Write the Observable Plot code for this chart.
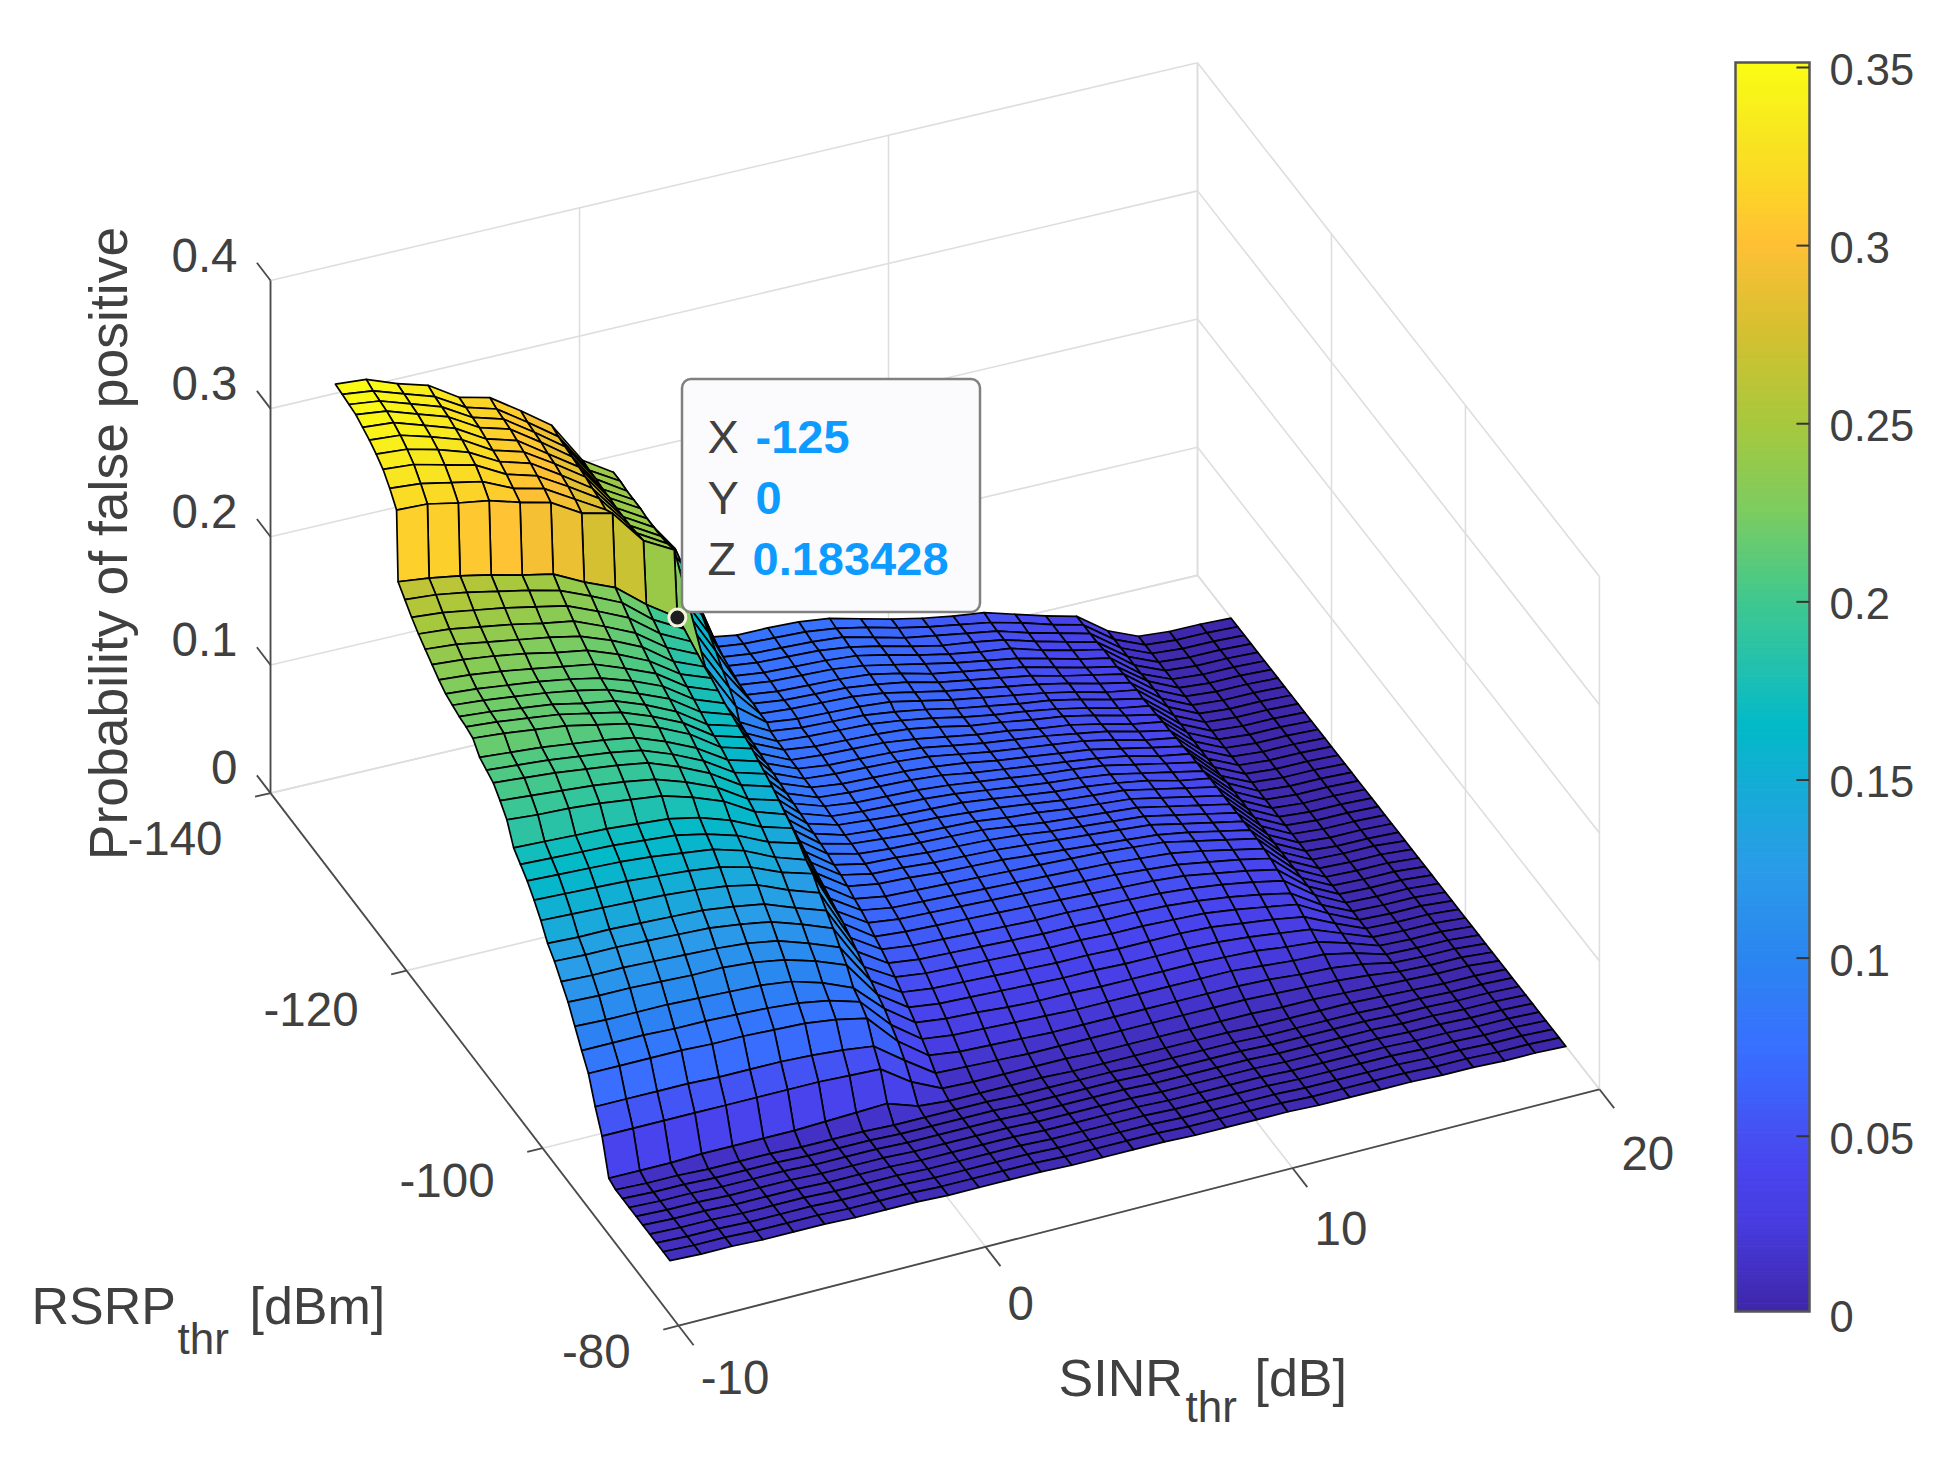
<!DOCTYPE html>
<html><head><meta charset="utf-8">
<script src="https://cdn.jsdelivr.net/npm/d3@7"></script>
<script src="https://cdn.jsdelivr.net/npm/@observablehq/plot@0.6"></script>
<style>body{margin:0;background:#fff}#w{position:relative;width:1951px;height:1480px}#w svg{position:absolute;left:0;top:0;overflow:visible}</style>
</head><body><div id="w"></div>
<script>
const sinrValues = d3.range(-9, 21);
const rsrpValues = d3.range(-135, -84);
const xTicks = [-10, 0, 10, 20];
const yTicks = [-140, -120, -100, -80];
const zTicks = [0, 0.1, 0.2, 0.3, 0.4];
const barTicks = [0, 0.05, 0.1, 0.15, 0.2, 0.25, 0.3, 0.35];
const stopValues = [0, .025, .04, .05, .0625, .075, .1, .125, .15, .165, .18, .2, .225, .25, .275, .3, .315, .33, .35];
const stopColors = ["#3e26a8","#483ce0","#4844ee","#4650f2","#3c62fa","#3870ff","#2a86f0","#2a9ce8","#12aed4","#02bac8","#20c0b0","#40c88e","#7ccc60","#a8c83c","#d4c030","#ffc035","#fcd428","#f8e620","#fafc14"];
// z in thousandths, one row per RSRP (-135 ... -85), one value per SINR (-9 ... 20)
const zRows = [
[348,346,337,330,315,309,293,276,243,228,187,157,82,78,78,77,74,68,62,57,53,50,43,36,30,13,3,1,1,0],
[347,344,336,328,314,307,291,274,242,228,185,152,81,78,77,76,73,68,62,57,53,49,43,36,30,13,3,1,1,0],
[346,343,335,327,313,306,290,273,242,227,180,146,80,77,76,75,73,67,61,57,53,49,42,36,30,13,3,1,1,0],
[345,342,334,326,312,305,289,272,241,227,175,140,80,77,76,75,72,67,61,56,53,49,42,36,30,13,3,1,1,0],
[342,340,332,324,310,303,287,271,241,227,170,132,79,76,75,74,72,67,61,56,52,49,42,36,31,13,3,1,1,0],
[339,337,330,322,308,301,286,270,240,226,163,125,79,76,75,74,71,66,61,56,52,48,42,36,31,13,3,1,1,0],
[335,333,327,319,306,299,284,268,240,226,156,118,78,75,74,73,71,66,60,56,52,48,42,36,31,14,3,1,1,0],
[330,328,322,316,303,296,282,267,240,226,149,110,78,75,74,73,70,66,60,56,52,48,42,37,32,14,3,1,1,0],
[322,320,315,310,299,293,279,265,241,227,140,103,77,75,74,73,70,65,60,56,52,48,43,37,32,14,3,1,1,0],
[312,311,306,302,295,289,275,269,242,229,132,95,77,74,73,72,70,65,60,56,52,48,43,37,33,14,3,1,1,0],
[263,260,256,251,245,240,228,218,199,183,125,90,77,74,73,72,69,65,60,56,52,49,44,38,33,14,3,1,1,0],
[256,254,250,245,240,234,224,213,194,181,122,88,76,74,73,72,69,65,60,56,53,49,44,38,34,14,3,1,1,0],
[249,247,243,239,234,229,219,208,190,178,119,87,76,73,72,71,69,65,60,57,53,50,45,39,34,14,3,1,1,0],
[243,241,237,233,228,224,214,203,186,175,116,86,75,73,72,71,68,64,60,57,53,50,45,39,35,14,3,1,1,0],
[238,236,232,228,224,219,210,199,182,172,113,85,75,72,71,70,68,64,60,57,54,50,46,40,35,14,3,1,1,0],
[233,231,228,224,219,215,206,195,179,170,111,84,74,72,71,70,68,64,60,57,54,51,46,40,36,14,3,1,1,0],
[228,226,223,219,215,211,202,192,176,167,108,83,74,71,70,69,67,64,60,57,54,51,46,41,36,14,3,1,1,0],
[224,222,219,216,212,207,199,189,173,164,105,82,73,71,70,69,67,63,60,57,54,51,47,41,37,14,3,1,1,0],
[222,220,217,214,210,205,196,186,170,162,103,81,73,70,69,68,66,63,60,57,55,52,47,42,37,15,3,1,1,0],
[220,218,215,212,207,203,194,183,167,160,101,80,72,70,69,68,66,63,60,57,55,52,47,42,37,15,3,1,1,0],
[219,217,214,211,206,201,192,181,165,158,99,79,72,70,68,67,66,63,60,57,55,52,48,42,38,15,3,1,1,0],
[217,215,212,209,204,199,190,179,163,156,97,78,71,69,68,67,65,63,60,57,55,53,48,43,38,15,3,1,1,0],
[209,207,205,202,199,195,186,175,160,153,95,77,71,69,67,66,65,62,60,57,55,53,48,43,38,15,3,1,1,0],
[206,204,202,199,196,192,183,172,157,150,93,76,70,68,67,66,65,62,59,57,55,53,48,43,38,15,3,1,1,0],
[203,201,199,196,193,189,180,169,154,147,91,74,69,68,66,65,64,62,59,57,55,53,48,43,38,15,3,1,1,0],
[196,194,192,190,187,183,175,165,150,143,89,73,68,67,65,64,63,61,59,57,55,53,48,43,38,15,3,1,1,0],
[188,186,185,183,180,177,170,161,147,139,87,71,67,66,64,63,62,60,58,56,54,52,48,43,38,15,3,2,2,0],
[173,172,171,170,168,166,161,153,142,135,84,68,64,63,62,61,60,59,58,57,55,53,48,43,38,15,3,2,2,0],
[167,166,165,164,162,160,155,148,137,130,81,66,62,61,60,59,58,57,56,55,53,51,47,42,37,15,3,2,2,0],
[161,160,159,158,156,153,150,143,132,124,78,63,60,59,58,57,56,55,54,53,51,49,45,41,36,15,3,2,2,0],
[153,152,151,150,148,146,143,137,127,120,75,59,57,56,55,54,53,52,51,50,49,47,43,39,34,15,3,2,2,0],
[144,143,142,141,140,138,135,130,120,112,71,56,53,52,51,50,49,49,48,47,46,44,41,37,32,15,3,2,2,0],
[133,132,132,131,130,129,126,122,113,105,67,52,49,48,47,46,45,45,44,44,43,41,38,34,29,14,3,2,2,0],
[126,125,125,124,123,122,119,115,107,98,62,48,45,44,43,42,41,41,40,40,39,38,35,31,27,14,3,2,2,0],
[117,116,116,115,114,113,111,107,99,90,58,43,40,39,38,37,36,36,35,35,35,34,31,28,24,13,3,2,2,0],
[108,107,107,106,105,105,103,99,92,83,54,38,35,34,33,32,31,31,30,30,30,29,27,24,21,12,3,2,2,0],
[96,95,95,95,94,93,92,89,82,72,50,33,30,29,27,26,26,25,25,25,25,24,23,20,18,11,3,2,2,0],
[84,84,84,83,83,82,81,79,75,68,44,27,24,23,22,21,20,20,20,20,20,20,18,16,15,10,3,2,2,0],
[73,73,73,73,72,72,71,70,67,62,38,21,18,17,16,15,15,15,15,15,15,15,14,12,11,8,3,2,2,0],
[54,54,54,54,53,53,53,52,50,47,30,14,13,12,11,11,11,11,11,11,11,11,10,9,8,6,3,2,2,0],
[38,38,38,38,38,38,38,38,37,36,20,9,8,8,8,8,7,7,7,7,7,7,6,6,5,4,3,2,2,0],
[12,12,12,13,13,13,13,14,15,16,8,6,6,6,6,5,5,5,5,5,5,4,4,4,4,3,2,1,1,0],
[10,9,9,8,8,8,7,7,7,6,6,6,6,5,5,5,5,4,4,4,4,3,3,3,3,2,2,1,1,0],
[10,9,9,8,8,8,7,7,7,6,6,6,6,5,5,5,5,4,4,4,4,3,3,3,3,2,2,1,1,0],
[10,9,9,8,8,8,7,7,7,6,6,6,6,5,5,5,5,4,4,4,4,3,3,3,3,2,2,1,1,0],
[10,9,9,8,8,8,7,7,7,6,6,6,6,5,5,5,5,4,4,4,4,3,3,3,3,2,2,1,1,0],
[10,9,9,8,8,8,7,7,7,6,6,6,6,5,5,5,5,4,4,4,4,3,3,3,3,2,2,1,1,0],
[10,9,9,8,8,8,7,7,7,6,6,6,6,5,5,5,5,4,4,4,4,3,3,3,3,2,2,1,1,0],
[10,9,9,8,8,8,7,7,7,6,6,6,6,5,5,5,5,4,4,4,4,3,3,3,3,2,2,1,1,0],
[10,9,9,8,8,8,7,7,7,6,6,6,6,5,5,5,5,4,4,4,4,3,3,3,3,2,2,1,1,0],
[10,9,9,8,8,8,7,7,7,6,6,6,6,5,5,5,5,4,4,4,4,3,3,3,3,2,2,1,1,0]
];

// 3-D view: floor corners and vertical scale, in page pixels
const view = {k: 1.2443, p00: [217, 637], du: [745, -175], dv: [328, 428], duv: [-5, -15], zs: 1030};
function project(sinr, rsrp, z) {
  const u = (sinr + 10) / 30, v = (rsrp + 140) / 60;
  const c = i => view.p00[i] + view.du[i] * u + view.dv[i] * v + view.duv[i] * u * v;
  return [c(0) * view.k, (c(1) - z * view.zs) * view.k];
}
const seg = (a, b) => { const p = project(...a), q = project(...b); return {x1: p[0], y1: p[1], x2: q[0], y2: q[1]}; };
// surface vertex; the rows in front of the wall sit slightly further left in the picture
const vertex = (i, j) => {
  const s = sinrValues[j], r = rsrpValues[i], p = project(s, r, zRows[i][j] / 1000);
  return [p[0] - (r >= -125 ? 5.5 * (20 - s) / 30 : 0), p[1]];
};

const cells = [];
for (let r = 0; r < rsrpValues.length - 1; r++)
  for (let c = sinrValues.length - 2; c >= 0; c--) {
    const a = vertex(r, c);
    cells.push({type: "Feature", properties: {z: zRows[r][c] / 1000},
      geometry: {type: "Polygon", coordinates: [[a, vertex(r, c + 1), vertex(r + 1, c + 1), vertex(r + 1, c), a]]}});
  }

const grid = [];
for (const x of xTicks) { grid.push(seg([x,-140,0],[x,-140,.4])); grid.push(seg([x,-140,0],[x,-80,0])); }
for (const y of yTicks) { grid.push(seg([20,y,0],[20,y,.4])); grid.push(seg([-10,y,0],[20,y,0])); }
for (const z of zTicks) { grid.push(seg([-10,-140,z],[20,-140,z])); grid.push(seg([20,-140,z],[20,-80,z])); }

const axes = [seg([-10,-140,0],[-10,-140,.4]), seg([-10,-140,0],[-10,-80,0]), seg([-10,-80,0],[20,-80,0])];
for (const x of xTicks) axes.push(seg([x,-80,0],[x,-77.8,0]));
for (const y of yTicks) axes.push(seg([-10,y,0],[-10.5,y,0]));
for (const z of zTicks) axes.push(seg([-10,-140,z],[-10,-142,z]));

const F = '"Liberation Sans", Arial, sans-serif', TC = "#404040", fs = 43.5, fst = 47.5;
const stopScale = d3.scaleLinear().domain(stopValues).range(stopColors).interpolate(d3.interpolateRgb);
const colorOpt = {type: "linear", domain: [0, 0.35], range: [0, 1], clamp: true, interpolate: t => stopScale(t * 0.35)};
const lab = (t, x, y, o = {}) => Plot.text([t], {x: () => x, y: () => y, text: d => d, fontSize: 52, fill: TC, textAnchor: "start", ...o});

const tooltipPoint = vertex(10, 9);

const main = Plot.plot({
  width: 1951, height: 1480, margin: 0,
  style: {fontFamily: F, background: "transparent"},
  x: {domain: [0, 1951], range: [0, 1951], axis: null},
  y: {domain: [0, 1480], range: [0, 1480], axis: null},
  color: colorOpt,
  marks: [
    Plot.link(grid, {x1: "x1", y1: "y1", x2: "x2", y2: "y2", stroke: "#dedede", strokeWidth: 1.6}),
    Plot.geo(cells, {fill: d => d.properties.z, stroke: "#000", strokeWidth: 1.7, strokeLinejoin: "round"}),
    Plot.link(axes, {x1: "x1", y1: "y1", x2: "x2", y2: "y2", stroke: "#4a4a4a", strokeWidth: 1.8}),
    Plot.text(zTicks, {x: d => project(-10,-140,d)[0] - 33, y: d => project(-10,-140,d)[1] - 24, text: d => String(d), textAnchor: "end", fontSize: fst, fill: TC}),
    Plot.text(yTicks, {x: d => project(-10,d,0)[0] - 48, y: d => project(-10,d,0)[1] + 47 - (d + 140) * 0.33, text: d => String(d), textAnchor: "end", fontSize: fst, fill: TC}),
    Plot.text(xTicks, {x: d => project(d,-80,0)[0] + 22, y: d => project(d,-80,0)[1] + 57.6 + d * 0.41, text: d => String(d), textAnchor: "start", fontSize: fst, fill: TC}),
    lab("Probability of false positive", 109, 543, {rotate: -90, textAnchor: "middle", fontSize: 53.5}),
    lab("RSRP", 31, 1307), lab("thr", 177, 1339, {fontSize: 44}), lab("[dBm]", 249, 1307),
    lab("SINR", 1058, 1379), lab("thr", 1185, 1407, {fontSize: 44}), lab("[dB]", 1254, 1379),
    Plot.rect([0], {x1: () => 682, x2: () => 980, y1: () => 379, y2: () => 612, fill: "#fbfbfe", stroke: "#808080", strokeWidth: 2.5, rx: 9}),
    lab("X", 707, 437, {fontSize: 47}), lab("Y", 707, 498, {fontSize: 47}), lab("Z", 707, 559, {fontSize: 47}),
    lab("-125", 755, 437, {fontSize: 47, fontWeight: "bold", fill: "#0d9bff"}),
    lab("0", 755, 498, {fontSize: 47, fontWeight: "bold", fill: "#0d9bff"}),
    lab("0.183428", 752, 559, {fontSize: 47, fontWeight: "bold", fill: "#0d9bff"}),
    Plot.dot([tooltipPoint], {x: d => d[0], y: d => d[1], r: 8.5, fill: "#1e1e1e", stroke: "#f6f4dc", strokeWidth: 3})
  ]
});

const barBase = 0.0008;
const steps = d3.range(barBase, 0.3514, 0.001);
const bar = Plot.plot({
  width: 251, height: 1480, marginLeft: 35, marginRight: 142, marginTop: 62, marginBottom: 169,
  style: {fontFamily: F, background: "transparent", overflow: "visible"},
  x: {domain: [0, 1], axis: null},
  y: {domain: [barBase, 0.3514], axis: null},
  color: colorOpt,
  marks: [
    Plot.rect(steps, {x1: 0, x2: 1, y1: d => d, y2: d => Math.min(d + 0.0012, 0.3514), fill: d => d}),
    Plot.frame({stroke: "#555", strokeWidth: 2.5}),
    Plot.ruleY(barTicks.filter(d => d > 0), {x1: 0.83, x2: 1, stroke: "#333", strokeWidth: 2}),
    Plot.axisY({anchor: "right", ticks: barTicks, tickFormat: d => String(d), tickSize: 0, tickPadding: 20, fontSize: fs, fill: TC, label: null, dy: 3.5})
  ]
});
bar.style.left = "1700px";
const w = document.getElementById("w");
w.append(main, bar);
</script></body></html>
